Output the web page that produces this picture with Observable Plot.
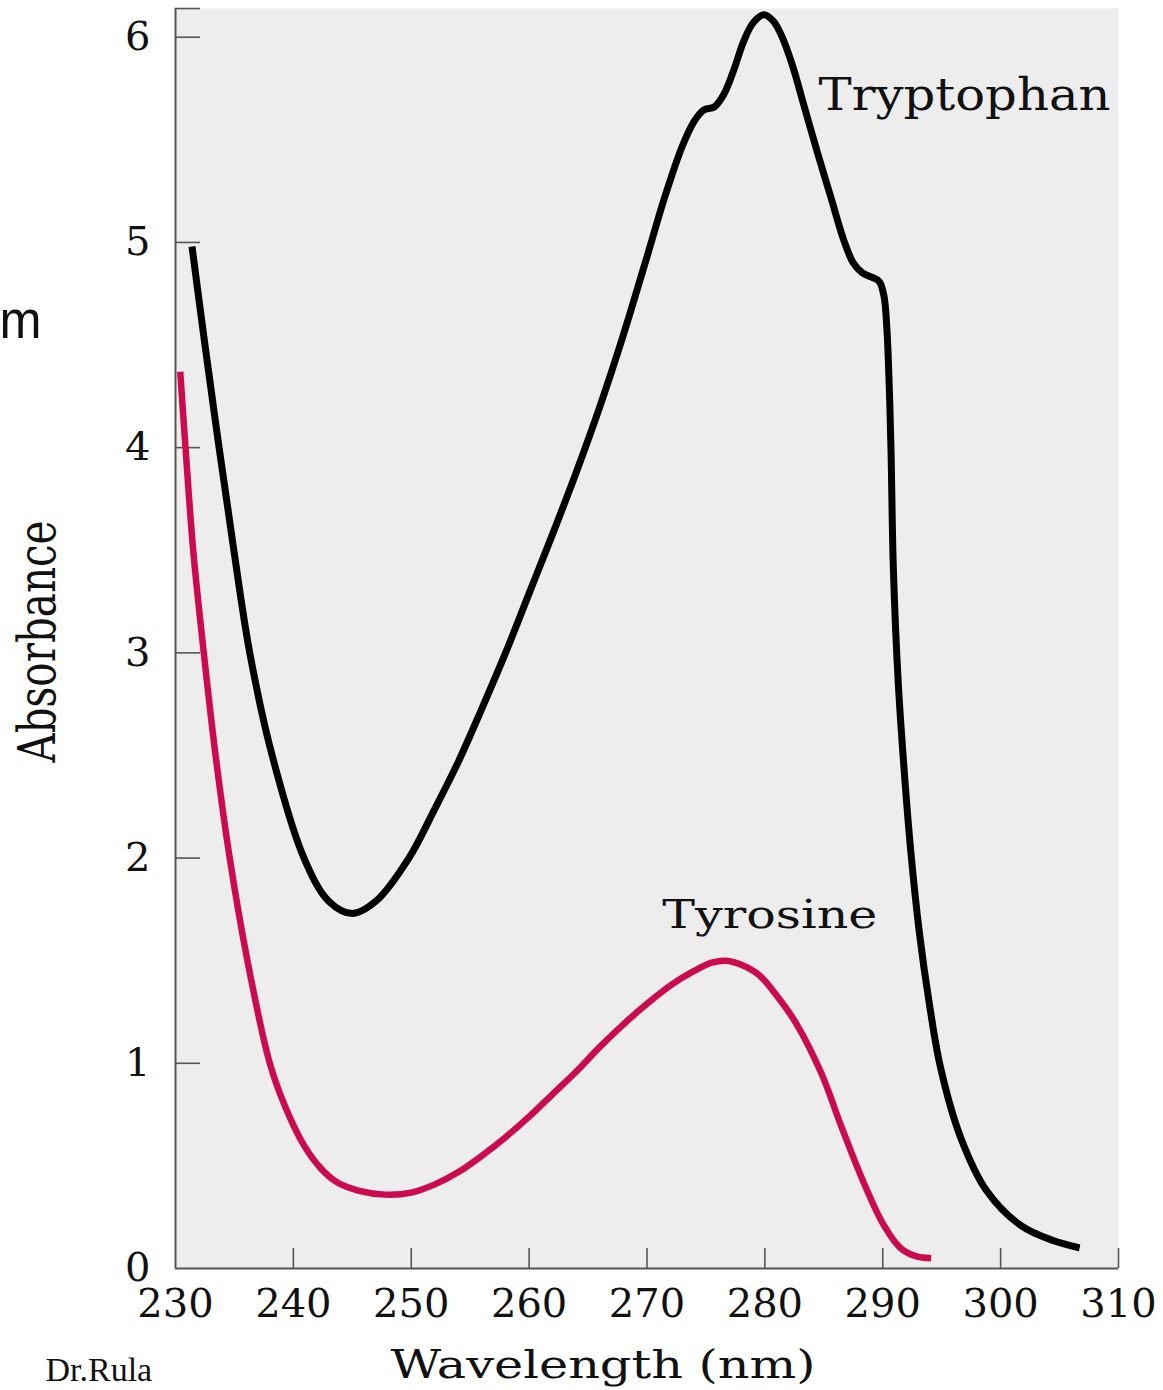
<!DOCTYPE html>
<html>
<head>
<meta charset="utf-8">
<script src="https://cdn.jsdelivr.net/npm/d3@7"></script>
<script src="https://cdn.jsdelivr.net/npm/@observablehq/plot@0.6"></script>
<style>
  html, body { margin: 0; padding: 0; background: #ffffff; overflow: hidden; }
  svg { display: block; }
</style>
</head>
<body>
<div id="chart"></div>
<script>
// ---- Data ----
const wavelengthTrp = [231.4, 232.5, 233.7, 234.95, 236.3, 238.2, 240.9, 243.0, 245.0, 247.0, 249.8, 252.0, 254.0, 256.0, 258.0, 260.0, 262.0, 264.0, 266.0, 268.0, 270.0, 271.5, 273.0, 274.0, 274.8, 275.7, 276.5, 277.3, 278.2, 279.0, 279.9, 280.7, 281.4, 282.3, 283.4, 284.5, 285.6, 286.7, 287.5, 288.3, 289.1, 289.7, 290.1, 290.35, 290.55, 290.7, 290.9, 291.3, 291.8, 292.4, 293.1, 293.9, 294.9, 296.6, 298.8, 301.7, 304.5, 306.7];
const absorbanceTrp = [4.98, 4.50, 4.00, 3.50, 3.00, 2.50, 2.00, 1.79, 1.73, 1.79, 2.00, 2.24, 2.47, 2.73, 3.00, 3.29, 3.58, 3.88, 4.20, 4.55, 4.93, 5.22, 5.47, 5.59, 5.645, 5.66, 5.72, 5.83, 5.98, 6.07, 6.11, 6.08, 6.01, 5.87, 5.65, 5.43, 5.22, 5.01, 4.90, 4.85, 4.83, 4.81, 4.74, 4.58, 4.30, 3.99, 3.41, 2.87, 2.44, 2.02, 1.64, 1.31, 0.98, 0.64, 0.38, 0.21, 0.135, 0.10];

const wavelengthTyr = [230.4, 230.85, 231.5, 232.4, 233.4, 234.6, 236.1, 238.0, 239.3, 240.9, 242.3, 243.7, 245.5, 247.8, 250.0, 252.0, 254.0, 256.0, 258.0, 260.0, 262.0, 264.0, 266.0, 268.0, 270.0, 272.0, 274.0, 275.5, 276.7, 278.0, 279.5, 281.0, 282.7, 284.8, 286.5, 288.3, 290.0, 291.5, 292.8, 294.1];
const absorbanceTyr = [4.37, 4.00, 3.50, 3.00, 2.50, 2.00, 1.50, 1.00, 0.79, 0.60, 0.49, 0.42, 0.38, 0.36, 0.37, 0.41, 0.47, 0.55, 0.64, 0.74, 0.85, 0.96, 1.08, 1.19, 1.29, 1.38, 1.45, 1.49, 1.50, 1.48, 1.43, 1.33, 1.19, 0.95, 0.69, 0.43, 0.22, 0.10, 0.06, 0.05];

const xTicks = [230, 240, 250, 260, 270, 280, 290, 300, 310];
const yTicks = [0, 1, 2, 3, 4, 5, 6];
const xDomain = [230, 310];
const yDomain = [0, 6.14];

const seriesNames = ["Tryptophan", "Tyrosine"];
const labelX = [284.55, 271.3];
const labelY = [5.643, 1.657];

const xTitle = "Wavelength (nm)";
const yTitle = "Absorbance";
const credit = "Dr.Rula";
const stray = "m";

// ---- Tables built from the arrays ----
const trp = wavelengthTrp.map((w, i) => ({w, a: absorbanceTrp[i]}));
const tyr = wavelengthTyr.map((w, i) => ({w, a: absorbanceTyr[i]}));

const W = 1163, H = 1390;
const mL = 175, mR = 45, mT = 8, mB = 122;
const frameW = W - mL - mR, frameH = H - mT - mB;
const axisColor = "#555555";

const chart = Plot.plot({
  width: W,
  height: H,
  marginLeft: mL,
  marginRight: mR,
  marginTop: mT,
  marginBottom: mB,
  x: {domain: xDomain},
  y: {domain: yDomain},
  style: {fontFamily: "DejaVu Serif", fontSize: "40px", color: "#111111", background: "#ffffff", overflow: "visible"},
  marks: [
    Plot.frame({fill: "#ededed", stroke: "none"}),
    // inward ticks
    Plot.ruleY(yTicks.slice(1).concat([yDomain[1]]), {y: d => d, insetRight: frameW - 25, stroke: axisColor, strokeWidth: 1.6}),
    Plot.ruleX(xTicks.slice(1), {x: d => d, insetTop: frameH - 20, stroke: axisColor, strokeWidth: 1.6}),
    // axis lines
    Plot.ruleX([xDomain[0]], {stroke: axisColor, strokeWidth: 2}),
    Plot.ruleY([0], {stroke: axisColor, strokeWidth: 2}),
    // tick labels
    Plot.axisX({ticks: xTicks, tickSize: 0, tickPadding: 20, fontSize: 40, label: null, tickFormat: d => String(d), fill: "#111111"}),
    Plot.axisY({ticks: yTicks, tickSize: 0, tickPadding: 25, fontSize: 40, label: null, tickFormat: d => String(d), fill: "#111111"}),
    // spectra
    Plot.line(tyr, {x: "w", y: "a", stroke: "#cc0a4f", strokeWidth: 6.5, curve: "catmull-rom", strokeLinecap: "butt"}),
    Plot.line(trp, {x: "w", y: "a", stroke: "#000000", strokeWidth: 7, curve: "catmull-rom", strokeLinecap: "butt"}),
    // series labels
    Plot.text([0], {x: i => labelX[i], y: i => labelY[i], text: i => seriesNames[i], textAnchor: "start", lineAnchor: "bottom", fontSize: 44, fill: "#111111"}),
    Plot.text([1], {x: i => labelX[i], y: i => labelY[i], text: i => seriesNames[i], textAnchor: "start", lineAnchor: "bottom", fontSize: 39, fill: "#111111"}),
    // axis titles
    Plot.text([xTitle], {frameAnchor: "bottom", dx: -44, dy: 109, lineAnchor: "bottom", textAnchor: "middle", fontSize: 40, fill: "#111111"}),
    Plot.text([yTitle], {frameAnchor: "left", dx: -121, dy: 3, rotate: -90, lineAnchor: "bottom", textAnchor: "middle", fontSize: 52, fill: "#111111"}),
    // extra slide texts
    Plot.text([credit], {frameAnchor: "bottom-left", dx: -130, dy: 112, lineAnchor: "bottom", textAnchor: "start", fontFamily: "Liberation Serif", fontSize: 34, fill: "#111111"}),
    Plot.text([stray], {frameAnchor: "top-left", dx: -176, dy: 329, lineAnchor: "bottom", textAnchor: "start", fontFamily: "Liberation Sans", fontSize: 54, fill: "#111111"})
  ]
});

document.getElementById("chart").appendChild(chart);

// stretch titles horizontally to the reference proportions
const fit = (t, len) => d3.select(chart).selectAll("text")
  .filter(function() { return this.textContent === t; })
  .attr("textLength", len).attr("lengthAdjust", "spacingAndGlyphs");
fit("Tryptophan", 292);
fit("Tyrosine", 215);
fit(xTitle, 425);
fit(yTitle, 242);
fit(stray, 42);
</script>
</body>
</html>
